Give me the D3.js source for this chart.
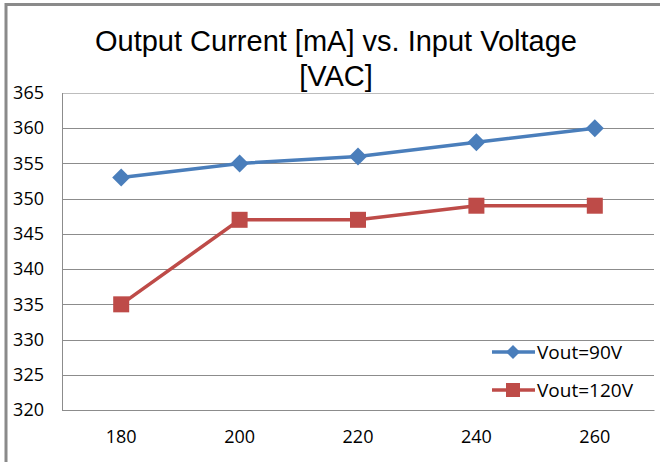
<!DOCTYPE html>
<html>
<head>
<meta charset="utf-8">
<script src="https://cdn.jsdelivr.net/npm/d3@7"></script>
<style>
  body { margin: 0; background: #fff; }
  svg { display: block; }
</style>
</head>
<body>
<div id="container"></div>
<script>
"use strict";

const width = 660;
const height = 462;

const margin = { left: 62, right: 6, top: 93, bottom: 52 };

const voltages = [180, 200, 220, 240, 260];
const vout90 = [353, 355, 356, 358, 360];
const vout120 = [335, 347, 347, 349, 349];
const yTicks = [320, 325, 330, 335, 340, 345, 350, 355, 360, 365];

const series = [
  { name: "Vout=90V", values: vout90, color: "#4a7ebb", marker: "diamond" },
  { name: "Vout=120V", values: vout120, color: "#be4b48", marker: "square" },
];

const tickFont = "'Open Sans', sans-serif";

const svg = d3
  .select("#container")
  .append("svg")
  .attr("width", width)
  .attr("height", height);

// outer frame (only top and left edge visible)
svg
  .append("path")
  .attr("d", `M6,${height} L6,4.5 L${width},4.5`)
  .attr("fill", "none")
  .attr("stroke", "#8a8a8a")
  .attr("stroke-width", 3);

const xScale = d3
  .scaleBand()
  .domain(voltages)
  .range([margin.left, width - margin.right]);

const yScale = d3
  .scaleLinear()
  .domain([320, 365])
  .range([height - margin.bottom, margin.top]);

// gridlines
svg
  .append("g")
  .selectAll("line")
  .data(yTicks)
  .enter()
  .append("line")
  .attr("x1", margin.left)
  .attr("x2", width - margin.right)
  .attr("y1", (d) => Math.round(yScale(d)) + 0.5)
  .attr("y2", (d) => Math.round(yScale(d)) + 0.5)
  .attr("stroke", (d) => (d === 365 ? "#bdbdbd" : "#8c8c8c"))
  .attr("stroke-width", 1);

// axis lines
svg
  .append("line")
  .attr("x1", margin.left + 0.5)
  .attr("x2", margin.left + 0.5)
  .attr("y1", margin.top)
  .attr("y2", height - margin.bottom)
  .attr("stroke", "#8c8c8c");

const yAxis = d3.axisLeft(yScale).tickValues(yTicks).tickSize(0).tickPadding(0);
const yg = svg
  .append("g")
  .attr("transform", `translate(44, 0)`)
  .call(yAxis);
yg.select(".domain").remove();
yg.selectAll("text")
  .style("font-family", tickFont)
  .style("font-size", "18px")
  .attr("fill", "#000");

const xAxis = d3.axisBottom(xScale).tickSize(0).tickPadding(20);
const xg = svg
  .append("g")
  .attr("transform", `translate(0, ${height - margin.bottom})`)
  .call(xAxis);
xg.select(".domain").attr("stroke", "#8c8c8c");
xg.selectAll("text")
  .style("font-family", tickFont)
  .style("font-size", "18px")
  .attr("fill", "#000");

const line = d3
  .line()
  .x((d, i) => xScale(voltages[i]) + xScale.bandwidth() / 2)
  .y((d) => yScale(d));

const drawMarker = (sel, kind, color) => {
  if (kind === "diamond") {
    sel.append("path").attr("d", "M0,-9 L9,0 L0,9 L-9,0 Z").attr("fill", color);
  } else {
    sel.append("rect").attr("x", -8).attr("y", -8).attr("width", 16).attr("height", 16).attr("fill", color);
  }
};

series.forEach((s) => {
  svg
    .append("path")
    .datum(s.values)
    .attr("d", line)
    .attr("fill", "none")
    .attr("stroke", s.color)
    .attr("stroke-width", 3.5);

  s.values.forEach((v, i) => {
    const g = svg
      .append("g")
      .attr("transform", `translate(${xScale(voltages[i]) + xScale.bandwidth() / 2}, ${yScale(v)})`);
    drawMarker(g, s.marker, s.color);
  });
});

// legend
const legend = svg.append("g").attr("transform", "translate(492, 352)");
series.forEach((s, i) => {
  const row = legend.append("g").attr("transform", `translate(0, ${i * 38})`);
  row
    .append("line")
    .attr("x1", 0)
    .attr("x2", 43)
    .attr("stroke", s.color)
    .attr("stroke-width", 3.5);
  const m = row.append("g").attr("transform", "translate(21, 0)");
  if (s.marker === "diamond") {
    m.append("path").attr("d", "M0,-7 L7,0 L0,7 L-7,0 Z").attr("fill", s.color);
  } else {
    m.append("rect").attr("x", -7).attr("y", -7).attr("width", 14).attr("height", 14).attr("fill", s.color);
  }
  row
    .append("text")
    .attr("x", 45)
    .attr("dy", "0.35em")
    .style("font-family", tickFont)
    .style("font-size", "19px")
    .text(s.name);
});

// title
const title = svg
  .append("text")
  .attr("text-anchor", "middle")
  .style("font-family", "'Liberation Sans', Arial, sans-serif")
  .style("font-size", "29px")
  .attr("fill", "#000");
title.append("tspan").attr("x", 336).attr("y", 51).text("Output Current [mA] vs. Input Voltage");
title.append("tspan").attr("x", 336).attr("y", 86).text("[VAC]");
</script>
</body>
</html>
